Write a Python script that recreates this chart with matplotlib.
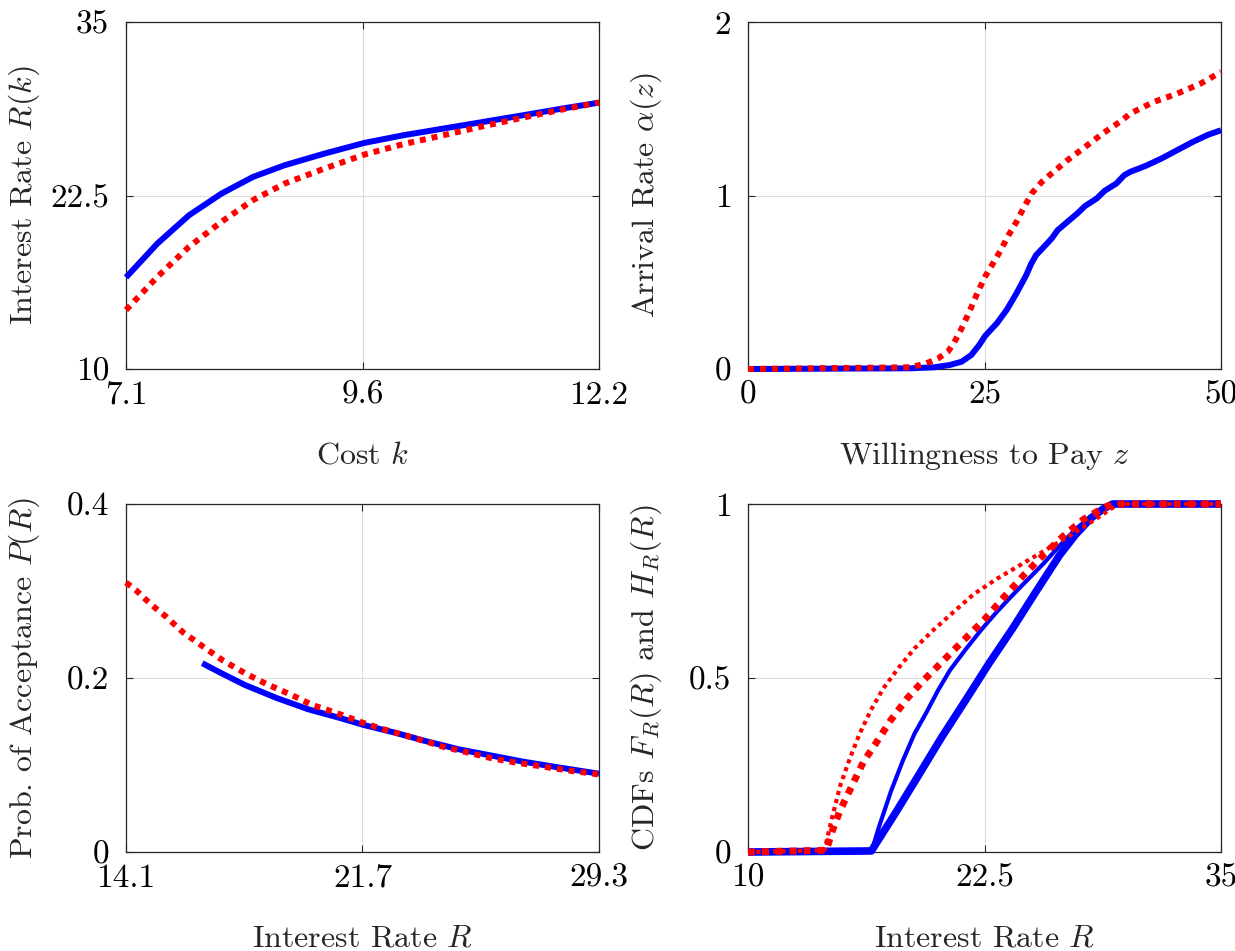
import matplotlib
matplotlib.use("Agg")
import matplotlib.pyplot as plt
import numpy as np

# top-left: interest rate vs cost
k_blue = [7.1, 7.44, 7.78, 8.13, 8.47, 8.81, 9.24, 9.67, 10.09, 10.52, 10.95, 11.38, 11.80, 12.2]
R_blue = [16.60, 19.05, 21.08, 22.64, 23.84, 24.68, 25.52, 26.29, 26.84, 27.32, 27.80, 28.28, 28.76, 29.19]
k_red = [7.1, 7.44, 7.78, 8.13, 8.47, 8.81, 9.24, 9.67, 10.09, 10.52, 10.95, 11.38, 11.80, 12.2]
R_red = [14.25, 16.65, 18.81, 20.61, 22.17, 23.36, 24.44, 25.45, 26.20, 26.84, 27.49, 28.11, 28.69, 29.2]

# top-right: arrival rate vs willingness to pay
z_blue = [0, 17.19, 19.68, 21.33, 22.58, 23.61, 24.44, 25.06, 26.3, 27.34, 28.38, 29.41, 29.95,
          30.45, 31.28, 32.1, 32.73, 33.76, 34.8, 35.62, 36.87, 37.7, 38.94, 39.77, 40.39,
          42.05, 43.7, 45.36, 47.02, 48.67, 50]
a_blue = [0, 0.004, 0.01, 0.023, 0.042, 0.081, 0.138, 0.19, 0.263, 0.34, 0.436, 0.541, 0.608,
          0.656, 0.704, 0.752, 0.80, 0.848, 0.896, 0.939, 0.983, 1.027, 1.069, 1.117, 1.136,
          1.171, 1.213, 1.261, 1.309, 1.351, 1.376]
z_red = [0, 17.19, 18.85, 20.09, 21.13, 21.75, 22.58, 23.4, 24.23, 25.06, 25.89, 26.72, 27.55,
         28.38, 29.2, 30.04, 31.07, 32.1, 33.76, 35.42, 37.49, 39.56, 40.39, 42.88, 45.36, 47.85, 50]
a_red = [0, 0.01, 0.033, 0.061, 0.10, 0.148, 0.234, 0.33, 0.436, 0.532, 0.608, 0.685, 0.772,
         0.848, 0.935, 1.015, 1.079, 1.127, 1.203, 1.271, 1.357, 1.434, 1.472, 1.539, 1.587, 1.645, 1.712]

# bottom-left: acceptance probability vs interest rate
r_red = [14.1, 14.42, 14.74, 15.06, 15.37, 15.95, 16.27, 16.58, 16.90, 17.22, 17.92, 18.62,
         19.39, 20.09, 20.85, 21.68, 22.38, 23.27, 24.29, 25.06, 25.82, 26.59, 27.6, 28.37, 29.13, 29.26]
p_red = [0.3097, 0.301, 0.290, 0.280, 0.271, 0.252, 0.244, 0.236, 0.228, 0.220, 0.2056, 0.193,
         0.181, 0.169, 0.160, 0.149, 0.141, 0.132, 0.121, 0.1145, 0.108, 0.103, 0.0976, 0.0934, 0.090, 0.089]
r_blue = [16.55, 17.16, 17.92, 18.94, 19.96, 20.98, 21.74, 22.76, 23.78, 24.8, 25.82, 26.84, 27.86, 29.3]
p_blue = [0.217, 0.2056, 0.192, 0.177, 0.164, 0.154, 0.146, 0.137, 0.127, 0.118, 0.111, 0.104, 0.098, 0.090]

# bottom-right: CDFs
x_H_blue = [10, 16.52, 16.94, 17.56, 18.18, 18.8, 19.42, 20.05, 20.67, 21.5, 22.32, 23.15, 23.98,
            24.81, 25.64, 26.47, 27.3, 28.12, 29.16, 29.37, 35]
H_blue = [0, 0, 0.075, 0.175, 0.262, 0.340, 0.400, 0.465, 0.522, 0.582, 0.638, 0.690, 0.738,
          0.784, 0.830, 0.880, 0.927, 0.965, 0.997, 1.0, 1.0]
x_F_blue = [10, 16.52, 17.77, 19.01, 20.25, 21.5, 22.74, 23.98, 25.22, 26.47, 27.3, 28.12, 28.75, 29.27, 35]
F_blue = [0, 0.003, 0.110, 0.22, 0.331, 0.436, 0.542, 0.642, 0.748, 0.853, 0.911, 0.959, 0.985, 1.0, 1.0]
x_F_red = [10, 14.14, 14.45, 14.87, 15.49, 16.11, 16.73, 17.56, 18.39, 19.22, 20.05, 20.87, 21.7,
           22.53, 23.57, 24.6, 25.64, 26.67, 27.71, 28.75, 29.27, 35]
F_red = [0, 0.005, 0.06, 0.12, 0.19, 0.26, 0.31, 0.38, 0.44, 0.49, 0.535, 0.58, 0.625,
         0.67, 0.735, 0.797, 0.855, 0.908, 0.955, 0.988, 1.0, 1.0]
x_H_red = [10, 14.04, 14.45, 14.87, 15.39, 15.9, 16.52, 17.15, 17.97, 18.8, 19.84, 20.87, 21.91,
           23.15, 24.4, 25.64, 26.88, 27.91, 28.75, 29.37, 29.58, 35]
H_red = [0, 0.005, 0.10, 0.19, 0.27, 0.34, 0.41, 0.47, 0.53, 0.585, 0.64, 0.69, 0.74,
         0.785, 0.825, 0.865, 0.905, 0.94, 0.97, 0.993, 1.0, 1.0]

plt.rcParams['font.family'] = 'serif'
plt.rcParams['font.serif'] = ['cmr10']
plt.rcParams['mathtext.fontset'] = 'cm'
plt.rcParams['axes.formatter.use_mathtext'] = True

BLUE = (0, 0, 1)
RED = (1, 0, 0)
DOT = (0, (1, 1))

fig = plt.figure(figsize=(12.35, 9.51), dpi=100)
W, H = 1235, 951


def make_ax(x0, y0, x1, y1):
    return fig.add_axes([x0 / W, 1 - y1 / H, (x1 - x0) / W, (y1 - y0) / H])


def style(ax, xlim, ylim, xticks, xlabels, yticks, ylabels, xlabel, ylabel):
    ax.set_xlim(xlim)
    ax.set_ylim(ylim)
    ax.set_xticks(xticks)
    ax.set_xticklabels(xlabels)
    ax.set_yticks(yticks)
    ax.set_yticklabels(ylabels)
    ax.tick_params(direction='in', top=True, right=True, length=5, width=0.8,
                   color='#262626', labelcolor='black', labelsize=24)
    ax.tick_params(axis='x', pad=8.5)
    ax.tick_params(axis='y', pad=12)
    ax.grid(True, color='#dcdcdc', lw=0.8)
    for s in ax.spines.values():
        s.set_color('#262626')
        s.set_linewidth(0.9)
    ax.set_xlabel(xlabel, fontsize=23, color='#262626')
    ax.set_ylabel(ylabel, fontsize=23, color='#262626')
    hgt = 347.0
    ax.xaxis.set_label_coords(0.5, -87 / hgt)
    ax.xaxis.label.set_va('center')
    ax.yaxis.set_label_coords(-102 / 473, 0.5)
    ax.yaxis.label.set_va('center')


ax1 = make_ax(126, 22, 599, 369)
ax1.plot(k_blue, R_blue, color=BLUE, lw=4.3, zorder=3, clip_on=False, solid_capstyle='butt')
ax1.plot(k_red, R_red, color=RED, lw=4.3, ls=DOT, zorder=4, clip_on=False)
style(ax1, (7.1, 12.2), (10, 35), [7.1, 9.65, 12.2], ['7.1', '9.6', '12.2'],
      [10, 22.5, 35], ['10', '22.5', '35'], r'Cost $k$', r'Interest Rate $R(k)$')

ax2 = make_ax(748, 22, 1221, 369)
ax2.plot(z_blue, a_blue, color=BLUE, lw=4.3, zorder=3, clip_on=False, solid_capstyle='butt')
ax2.plot(z_red, a_red, color=RED, lw=4.3, ls=DOT, zorder=4, clip_on=False)
style(ax2, (0, 50), (0, 2), [0, 25, 50], ['0', '25', '50'],
      [0, 1, 2], ['0', '1', '2'], r'Willingness to Pay $z$', r'Arrival Rate $\alpha(z)$')

ax3 = make_ax(126, 504, 599, 852)
ax3.plot(r_blue, p_blue, color=BLUE, lw=4.3, zorder=3, clip_on=False, solid_capstyle='butt')
ax3.plot(r_red, p_red, color=RED, lw=4.3, ls=DOT, zorder=4, clip_on=False)
style(ax3, (14.1, 29.3), (0, 0.4), [14.1, 21.7, 29.3], ['14.1', '21.7', '29.3'],
      [0, 0.2, 0.4], ['0', '0.2', '0.4'], r'Interest Rate $R$', r'Prob. of Acceptance $P(R)$')

ax4 = make_ax(748, 504, 1221, 852)
ax4.plot(x_F_blue, F_blue, color=BLUE, lw=5.5, zorder=3, clip_on=False, solid_capstyle='butt')
ax4.plot(x_H_blue, H_blue, color=BLUE, lw=3.0, zorder=3, clip_on=False, solid_capstyle='butt')
ax4.plot(x_F_red, F_red, color=RED, lw=5.0, ls=DOT, zorder=4, clip_on=False)
ax4.plot(x_H_red, H_red, color=RED, lw=3.0, ls=DOT, zorder=4, clip_on=False)
style(ax4, (10, 35), (0, 1), [10, 22.5, 35], ['10', '22.5', '35'],
      [0, 0.5, 1], ['0', '0.5', '1'], r'Interest Rate $R$', r'CDFs $F_R(R)$ and $H_R(R)$')

fig.savefig('out.png', dpi=100)
